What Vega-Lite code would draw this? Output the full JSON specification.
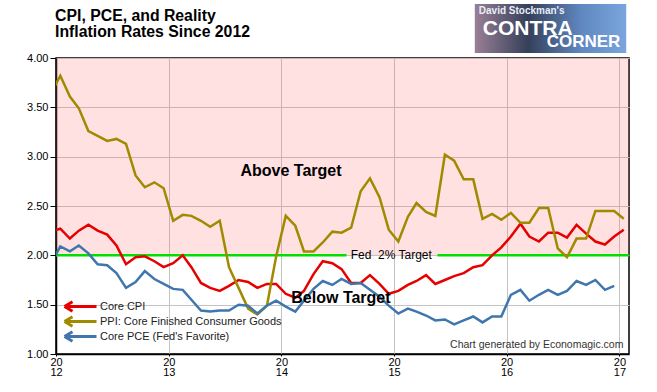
{
  "$schema": "https://vega.github.io/schema/vega-lite/v6.json",
  "width": 573,
  "height": 296,
  "autosize": {"type": "none"},
  "padding": {"left": 56, "top": 58, "right": 28, "bottom": 38},
  "background": "white",
  "config": {
    "font": "Liberation Sans",
    "view": {"stroke": "#000", "strokeWidth": 1.5},
    "axis": {"labelFont": "Liberation Sans", "labelColor": "#000", "labelFontSize": 11, "gridColor": "#c4c4c4", "gridWidth": 1, "domainColor": "#000", "domainWidth": 1.5, "tickColor": "#000", "title": null}
  },
  "datasets": {
    "rates": [
      {"date": "2011-12-15", "cpi": 2.24, "ppi": 3.64, "pce": 1.91},
      {"date": "2012-01-15", "cpi": 2.27, "ppi": 3.82, "pce": 2.09},
      {"date": "2012-02-15", "cpi": 2.17, "ppi": 3.61, "pce": 2.04},
      {"date": "2012-03-15", "cpi": 2.25, "ppi": 3.49, "pce": 2.10},
      {"date": "2012-04-15", "cpi": 2.31, "ppi": 3.26, "pce": 2.02},
      {"date": "2012-05-15", "cpi": 2.25, "ppi": 3.21, "pce": 1.91},
      {"date": "2012-06-15", "cpi": 2.21, "ppi": 3.16, "pce": 1.90},
      {"date": "2012-07-15", "cpi": 2.10, "ppi": 3.18, "pce": 1.82},
      {"date": "2012-08-15", "cpi": 1.91, "ppi": 3.13, "pce": 1.67},
      {"date": "2012-09-15", "cpi": 1.98, "ppi": 2.81, "pce": 1.73},
      {"date": "2012-10-15", "cpi": 1.99, "ppi": 2.69, "pce": 1.84},
      {"date": "2012-11-15", "cpi": 1.94, "ppi": 2.74, "pce": 1.76},
      {"date": "2012-12-15", "cpi": 1.88, "ppi": 2.68, "pce": 1.71},
      {"date": "2013-01-15", "cpi": 1.92, "ppi": 2.35, "pce": 1.66},
      {"date": "2013-02-15", "cpi": 2.00, "ppi": 2.41, "pce": 1.65},
      {"date": "2013-03-15", "cpi": 1.88, "ppi": 2.40, "pce": 1.55},
      {"date": "2013-04-15", "cpi": 1.72, "ppi": 2.35, "pce": 1.44},
      {"date": "2013-05-15", "cpi": 1.67, "ppi": 2.29, "pce": 1.43},
      {"date": "2013-06-15", "cpi": 1.64, "ppi": 2.35, "pce": 1.44},
      {"date": "2013-07-15", "cpi": 1.69, "ppi": 1.88, "pce": 1.44},
      {"date": "2013-08-15", "cpi": 1.75, "ppi": 1.67, "pce": 1.50},
      {"date": "2013-09-15", "cpi": 1.73, "ppi": 1.46, "pce": 1.49},
      {"date": "2013-10-15", "cpi": 1.67, "ppi": 1.40, "pce": 1.41},
      {"date": "2013-11-15", "cpi": 1.71, "ppi": 1.49, "pce": 1.49},
      {"date": "2013-12-15", "cpi": 1.71, "ppi": 1.99, "pce": 1.54},
      {"date": "2014-01-15", "cpi": 1.61, "ppi": 2.40, "pce": 1.48},
      {"date": "2014-02-15", "cpi": 1.57, "ppi": 2.30, "pce": 1.43},
      {"date": "2014-03-15", "cpi": 1.64, "ppi": 2.04, "pce": 1.54},
      {"date": "2014-04-15", "cpi": 1.81, "ppi": 2.04, "pce": 1.66},
      {"date": "2014-05-15", "cpi": 1.94, "ppi": 2.13, "pce": 1.74},
      {"date": "2014-06-15", "cpi": 1.92, "ppi": 2.24, "pce": 1.70},
      {"date": "2014-07-15", "cpi": 1.86, "ppi": 2.23, "pce": 1.76},
      {"date": "2014-08-15", "cpi": 1.72, "ppi": 2.28, "pce": 1.71},
      {"date": "2014-09-15", "cpi": 1.72, "ppi": 2.65, "pce": 1.72},
      {"date": "2014-10-15", "cpi": 1.80, "ppi": 2.78, "pce": 1.65},
      {"date": "2014-11-15", "cpi": 1.71, "ppi": 2.59, "pce": 1.58},
      {"date": "2014-12-15", "cpi": 1.61, "ppi": 2.26, "pce": 1.49},
      {"date": "2015-01-15", "cpi": 1.64, "ppi": 2.14, "pce": 1.41},
      {"date": "2015-02-15", "cpi": 1.70, "ppi": 2.39, "pce": 1.46},
      {"date": "2015-03-15", "cpi": 1.74, "ppi": 2.53, "pce": 1.43},
      {"date": "2015-04-15", "cpi": 1.80, "ppi": 2.44, "pce": 1.39},
      {"date": "2015-05-15", "cpi": 1.71, "ppi": 2.40, "pce": 1.34},
      {"date": "2015-06-15", "cpi": 1.75, "ppi": 3.02, "pce": 1.35},
      {"date": "2015-07-15", "cpi": 1.79, "ppi": 2.96, "pce": 1.30},
      {"date": "2015-08-15", "cpi": 1.82, "ppi": 2.77, "pce": 1.34},
      {"date": "2015-09-15", "cpi": 1.88, "ppi": 2.77, "pce": 1.38},
      {"date": "2015-10-15", "cpi": 1.90, "ppi": 2.37, "pce": 1.32},
      {"date": "2015-11-15", "cpi": 2.00, "ppi": 2.42, "pce": 1.38},
      {"date": "2015-12-15", "cpi": 2.08, "ppi": 2.36, "pce": 1.38},
      {"date": "2016-01-15", "cpi": 2.19, "ppi": 2.43, "pce": 1.60},
      {"date": "2016-02-15", "cpi": 2.32, "ppi": 2.33, "pce": 1.65},
      {"date": "2016-03-15", "cpi": 2.19, "ppi": 2.33, "pce": 1.54},
      {"date": "2016-04-15", "cpi": 2.14, "ppi": 2.48, "pce": 1.60},
      {"date": "2016-05-15", "cpi": 2.23, "ppi": 2.48, "pce": 1.65},
      {"date": "2016-06-15", "cpi": 2.23, "ppi": 2.07, "pce": 1.60},
      {"date": "2016-07-15", "cpi": 2.18, "ppi": 1.98, "pce": 1.64},
      {"date": "2016-08-15", "cpi": 2.31, "ppi": 2.17, "pce": 1.74},
      {"date": "2016-09-15", "cpi": 2.22, "ppi": 2.17, "pce": 1.70},
      {"date": "2016-10-15", "cpi": 2.14, "ppi": 2.45, "pce": 1.75},
      {"date": "2016-11-15", "cpi": 2.11, "ppi": 2.45, "pce": 1.65},
      {"date": "2016-12-15", "cpi": 2.19, "ppi": 2.45, "pce": 1.69},
      {"date": "2017-01-15", "cpi": 2.26, "ppi": 2.37, "pce": null}
    ],
    "target": [
      {"start": "2011-12-01", "end": "2014-07-31", "level": 2},
      {"start": "2015-05-22", "end": "2017-02-01", "level": 2}
    ]
  },
  "layer": [
    {
      "data": {"values": [{"lo": 2, "hi": 4}]},
      "mark": {"type": "rect", "fill": "#ff6970", "opacity": 0.2},
      "encoding": {
        "y": {"field": "lo", "type": "quantitative", "scale": {"domain": [1, 4], "nice": false, "zero": false},
          "axis": {"values": [1, 1.5, 2, 2.5, 3, 3.5, 4], "format": ".2f", "tickSize": 6, "labelPadding": 2, "grid": true}},
        "y2": {"field": "hi"}
      }
    },
    {
      "data": {"name": "target"},
      "mark": {"type": "rule", "color": "#00e000", "strokeWidth": 2.5, "clip": true},
      "encoding": {
        "x": {"field": "start", "type": "temporal"},
        "x2": {"field": "end"},
        "y": {"field": "level", "type": "quantitative"}
      }
    },
    {
      "data": {"name": "rates"},
      "transform": [
        {"fold": ["cpi", "ppi", "pce"], "as": ["series", "value"]},
        {"filter": "datum.value != null"}
      ],
      "mark": {"type": "line", "strokeWidth": 2.5, "clip": true},
      "encoding": {
        "x": {"field": "date", "type": "temporal",
          "scale": {"type": "utc", "domain": [{"year": 2012, "month": 1, "date": 1, "utc": true}, {"year": 2017, "month": 2, "date": 1, "utc": true}]},
          "axis": {"values": [{"year": 2012, "month": 1, "date": 1, "utc": true}, {"year": 2013, "month": 1, "date": 1, "utc": true}, {"year": 2014, "month": 1, "date": 1, "utc": true}, {"year": 2015, "month": 1, "date": 1, "utc": true}, {"year": 2016, "month": 1, "date": 1, "utc": true}, {"year": 2017, "month": 1, "date": 1, "utc": true}],
            "labelExpr": "[substring(utcFormat(datum.value, '%Y'), 0, 2), substring(utcFormat(datum.value, '%Y'), 2, 4)]",
            "labelLineHeight": 10, "labelFlush": false, "labelOverlap": false, "tickSize": 2, "labelPadding": 0, "grid": true}},
        "y": {"field": "value", "type": "quantitative"},
        "color": {"field": "series", "type": "nominal",
          "scale": {"domain": ["cpi", "ppi", "pce"], "range": ["#e60000", "#a08a00", "#4076ae"]},
          "legend": {"orient": "none", "legendX": 7, "legendY": 242, "title": null, "padding": 0, "clipHeight": 13,
            "symbolType": "M-1,0L1,0M-1,0L-0.5,-0.3M-1,0L-0.5,0.3", "symbolSize": 1024, "symbolStrokeWidth": 3, "symbolFillColor": "transparent",
            "labelFontSize": 11, "labelFont": "Liberation Sans", "labelColor": "#222", "labelOffset": 2, "rowPadding": 2, "labelLimit": 400,
            "labelExpr": "datum.label == 'cpi' ? 'Core CPI' : datum.label == 'ppi' ? 'PPI: Core Finished Consumer Goods' : \"Core PCE (Fed's Favorite)\""}}
      }
    },
    {
      "data": {"values": [{}]},
      "mark": {"type": "text", "fontSize": 12, "font": "Liberation Sans", "color": "#000", "align": "center", "baseline": "middle"},
      "encoding": {
        "x": {"datum": {"year": 2014, "month": 12, "date": 23, "utc": true}, "type": "temporal"},
        "y": {"datum": 2, "type": "quantitative"},
        "text": {"value": "Fed\u00a0 2% Target"}
      }
    },
    {
      "data": {"values": [{}]},
      "mark": {"type": "text", "fontSize": 16, "fontWeight": "bold", "font": "Liberation Sans", "color": "#000", "align": "center", "baseline": "alphabetic"},
      "encoding": {
        "x": {"datum": {"year": 2014, "month": 2, "date": 1, "utc": true}, "type": "temporal"},
        "y": {"datum": 2.8, "type": "quantitative"},
        "text": {"value": "Above Target"}
      }
    },
    {
      "data": {"values": [{}]},
      "mark": {"type": "text", "fontSize": 16, "fontWeight": "bold", "font": "Liberation Sans", "color": "#000", "align": "center", "baseline": "alphabetic"},
      "encoding": {
        "x": {"datum": {"year": 2014, "month": 7, "date": 13, "utc": true}, "type": "temporal"},
        "y": {"datum": 1.52, "type": "quantitative"},
        "text": {"value": "Below Target"}
      }
    },
    {
      "data": {"values": [{}]},
      "mark": {"type": "text", "fontSize": 10.5, "font": "Liberation Sans", "color": "#333", "align": "right", "baseline": "alphabetic"},
      "encoding": {
        "x": {"datum": {"year": 2017, "month": 1, "date": 14, "utc": true}, "type": "temporal"},
        "y": {"datum": 1.06, "type": "quantitative"},
        "text": {"value": "Chart generated by Economagic.com"}
      }
    },
    {
      "data": {"values": [{}]},
      "mark": {"type": "text", "fontSize": 15.8, "fontWeight": "bold", "font": "Liberation Sans", "color": "#000", "align": "left", "baseline": "alphabetic", "lineHeight": 16},
      "encoding": {
        "x": {"datum": {"year": 2011, "month": 12, "date": 29, "utc": true}, "type": "temporal"},
        "y": {"datum": 4.378, "type": "quantitative"},
        "text": {"value": ["CPI, PCE, and Reality", "Inflation Rates Since 2012"]}
      }
    },
    {
      "data": {"values": [{}]},
      "mark": {"type": "rect", "fill": {"gradient": "linear", "x1": 0, "x2": 1, "y1": 0, "y2": 0, "stops": [{"offset": 0, "color": "#9a7f95"}, {"offset": 0.35, "color": "#35405a"}, {"offset": 0.7, "color": "#5f87c0"}, {"offset": 1, "color": "#7aa5dd"}]}},
      "encoding": {
        "x": {"datum": {"year": 2015, "month": 9, "date": 20, "utc": true}, "type": "temporal"},
        "x2": {"datum": {"year": 2017, "month": 1, "date": 23, "utc": true}},
        "y": {"datum": 4.05, "type": "quantitative"},
        "y2": {"datum": 4.548}
      }
    },
    {
      "data": {"values": [{}]},
      "mark": {"type": "text", "fontSize": 10, "fontWeight": "bold", "font": "Liberation Sans", "color": "#e8eef8", "align": "left", "baseline": "alphabetic"},
      "encoding": {
        "x": {"datum": {"year": 2015, "month": 10, "date": 3, "utc": true}, "type": "temporal"},
        "y": {"datum": 4.451, "type": "quantitative"},
        "text": {"value": "David Stockman's"}
      }
    },
    {
      "data": {"values": [{}]},
      "mark": {"type": "text", "fontSize": 21, "fontWeight": "bold", "font": "Liberation Sans", "color": "#ffffff", "align": "left", "baseline": "alphabetic"},
      "encoding": {
        "x": {"datum": {"year": 2015, "month": 10, "date": 16, "utc": true}, "type": "temporal"},
        "y": {"datum": 4.233, "type": "quantitative"},
        "text": {"value": "CONTRA"}
      }
    },
    {
      "data": {"values": [{}]},
      "mark": {"type": "text", "fontSize": 17, "fontWeight": "bold", "font": "Liberation Sans", "color": "#ffffff", "align": "right", "baseline": "alphabetic"},
      "encoding": {
        "x": {"datum": {"year": 2017, "month": 1, "date": 4, "utc": true}, "type": "temporal"},
        "y": {"datum": 4.112, "type": "quantitative"},
        "text": {"value": "CORNER"}
      }
    }
  ]
}
